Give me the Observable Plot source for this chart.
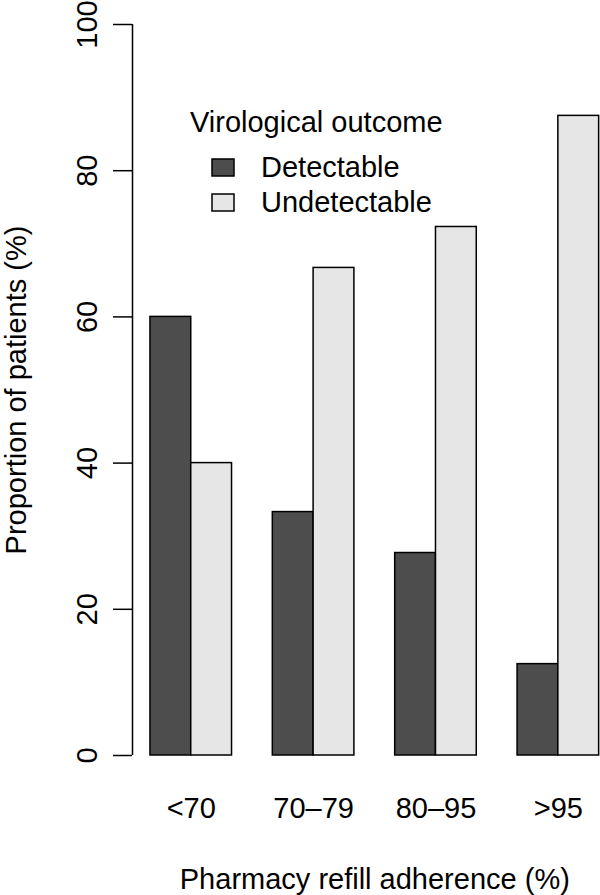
<!DOCTYPE html>
<html><head><meta charset="utf-8">
<script src="https://cdn.jsdelivr.net/npm/d3@7"></script>
<script src="https://cdn.jsdelivr.net/npm/@observablehq/plot@0.6"></script>
<style>html,body{margin:0;padding:0;background:#fff}</style>
</head><body><div id="chart"></div>
<script>
const categories = ["<70", "70\u201379", "80\u201395", ">95"];
const series = ["Detectable", "Undetectable"];
const detectable = [60, 33.3, 27.7, 12.5];
const undetectable = [40, 66.7, 72.3, 87.5];
const yTicks = [0, 20, 40, 60, 80, 100];
const colors = ["#4d4d4d", "#e6e6e6"];
const legendTitle = "Virological outcome";
const xTitle = "Pharmacy refill adherence (%)";
const yTitle = "Proportion of patients (%)";

// R barplot(beside = TRUE) layout: bars of width 1, a one-unit gap before each group
const groupSize = series.length + 1;
const bars = [];
categories.forEach((c, i) => {
  [detectable, undetectable].forEach((vals, k) => {
    const x1 = i * groupSize + 1 + k;
    bars.push({category: c, series: series[k], value: vals[i], x1, x2: x1 + 1});
  });
});
const centers = categories.map((c, i) => i * groupSize + 1 + series.length / 2);
const catByCenter = new Map(centers.map((x, i) => [x, categories[i]]));
const lo = 1, hi = categories.length * groupSize;
const ext = 0.04 * (hi - lo);
const xDomain = [lo - ext, hi + ext];

const W = 600, H = 895;
const mL = 132, mT = 24, mB = 140;
const unitPx = 40.79; // pixels per bar width (plot region runs past the right edge, as in the cropped original)
const FS = 29;

function legend(index, scales, values, dims) {
  const g = d3.create("svg:g").attr("font-size", FS).attr("text-anchor", "start");
  const x0 = dims.marginLeft, y0 = dims.marginTop;
  g.append("text").attr("x", x0 + 58).attr("y", y0 + 108).text(legendTitle);
  series.forEach((s, k) => {
    const cy = y0 + 143.5 + k * 35;
    g.append("rect").attr("x", x0 + 80).attr("y", cy - 8.5).attr("width", 22).attr("height", 17)
      .attr("fill", scales.color(s)).attr("stroke", "black").attr("stroke-width", 1.5);
    g.append("text").attr("x", x0 + 129).attr("y", cy).attr("dy", "0.34em").text(s);
  });
  return g.node();
}

const chart = Plot.plot({
  width: W, height: H,
  marginLeft: mL, marginRight: 0, marginTop: mT, marginBottom: mB,
  style: {fontFamily: "'Liberation Sans', Arial, Helvetica, sans-serif", fontSize: FS + "px", background: "#fff", color: "#000"},
  x: {type: "linear", domain: xDomain, range: [mL, mL + unitPx * (xDomain[1] - xDomain[0])]},
  y: {domain: [0, 100]},
  color: {domain: series, range: colors},
  marks: [
    Plot.rect(bars, {x1: "x1", x2: "x2", y1: 0, y2: "value", fill: "series", stroke: "black", strokeWidth: 1.5}),
    Plot.ruleX([xDomain[0]], {y1: yTicks[0], y2: yTicks[yTicks.length - 1], strokeWidth: 1.5}),
    Plot.axisY({ticks: yTicks, tickSize: 19, tickPadding: 17, tickRotate: -90, label: null, strokeWidth: 1.5}),
    Plot.axisX({ticks: centers, tickFormat: d => catByCenter.get(d), tickSize: 0, tickPadding: 42, label: null}),
    Plot.text([xTitle], {x: () => (xDomain[0] + xDomain[1]) / 2, frameAnchor: "bottom", dy: 133, lineAnchor: "bottom"}),
    Plot.text([yTitle], {frameAnchor: "left", dx: -107, rotate: -90, textAnchor: "middle", lineAnchor: "bottom"}),
    legend
  ]
});
document.getElementById("chart").appendChild(chart);
</script>
</body></html>
